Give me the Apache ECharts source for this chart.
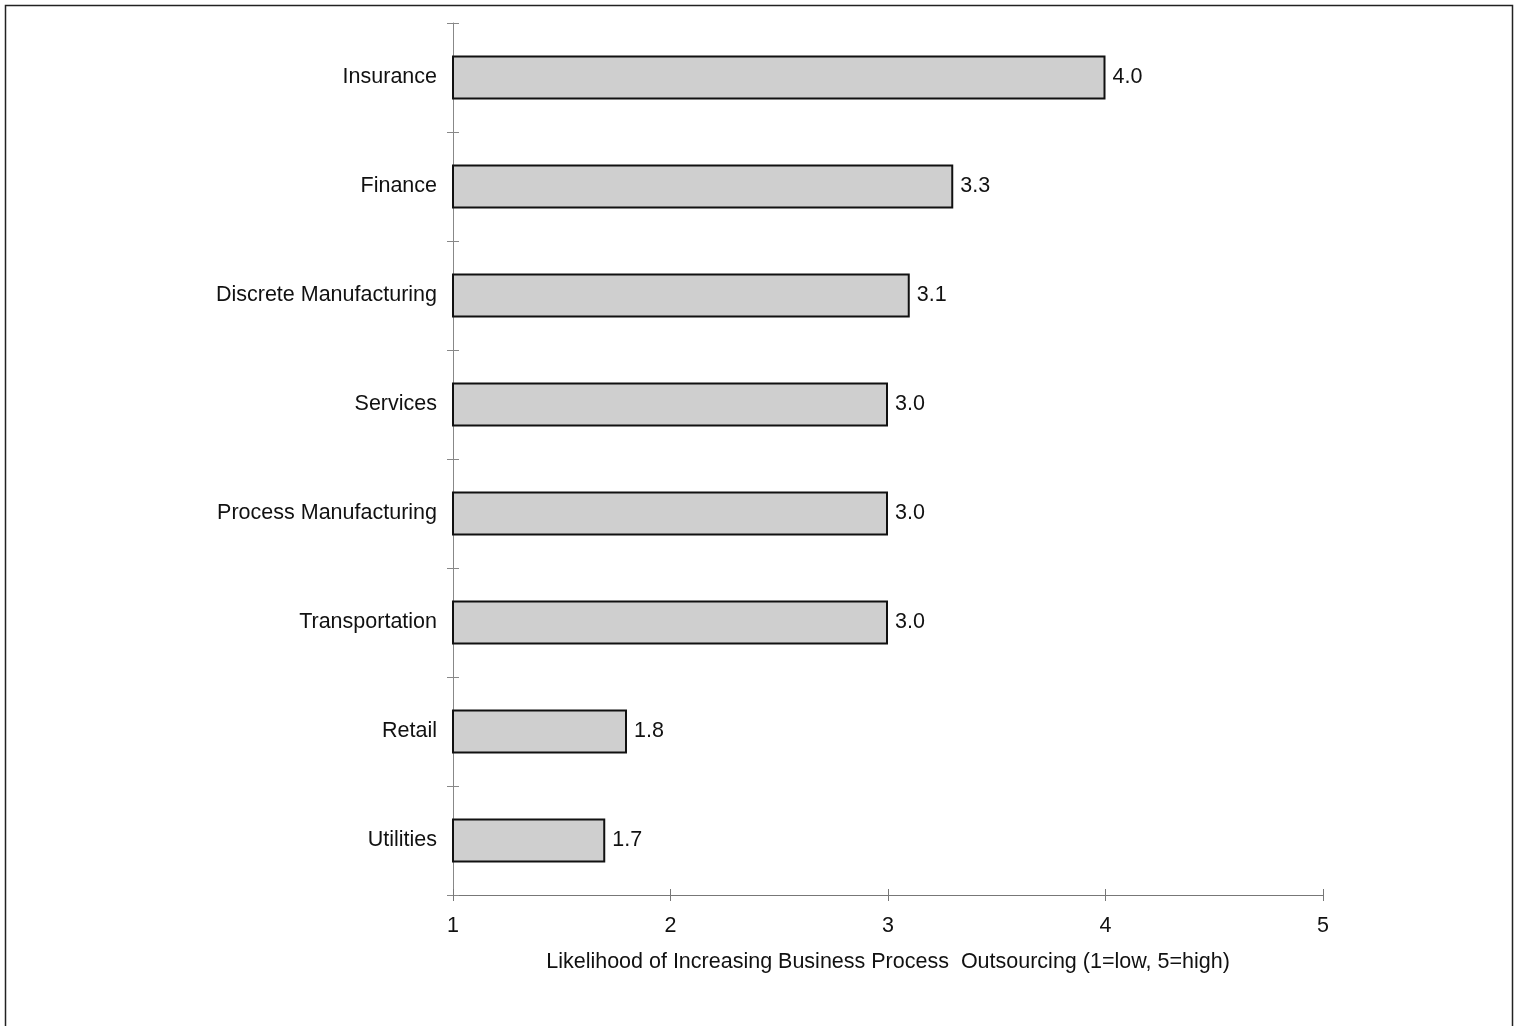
<!DOCTYPE html>
<html>
<head>
<meta charset="utf-8">
<title>Business Process Outsourcing Likelihood by Industry</title>
<script src="https://cdn.jsdelivr.net/npm/echarts@6/dist/echarts.min.js"></script>
<style>
  html, body { margin: 0; padding: 0; background: #fff; }
  #chart { width: 1515px; height: 1026px; }
</style>
</head>
<body>
<div id="chart"></div>
<script>
// Industries, listed bottom to top as the category axis draws them
const industries = ['Utilities', 'Retail', 'Transportation', 'Process Manufacturing',
  'Services', 'Discrete Manufacturing', 'Finance', 'Insurance'];
const likelihood = [1.7, 1.8, 3.0, 3.0, 3.0, 3.1, 3.3, 4.0];
const xTicks = [1, 2, 3, 4, 5];
const xAxisTitle = 'Likelihood of Increasing Business Process  Outsourcing (1=low, 5=high)';

const font = '"Liberation Sans", Arial, Helvetica, sans-serif';
const fs = 21.5;
const chart = echarts.init(document.getElementById('chart'), null, { renderer: 'canvas' });

chart.setOption({
  animation: false,
  backgroundColor: '#ffffff',
  graphic: [{
    type: 'rect',
    shape: { x: 5.5, y: 5.5, width: 1507, height: 1040 },
    style: { fill: 'none', stroke: '#222', lineWidth: 1.5 },
    silent: true
  }],
  grid: { left: 453, right: 192, top: 23, bottom: 131, containLabel: false },
  xAxis: [{
    type: 'value',
    min: xTicks[0],
    max: xTicks[xTicks.length - 1],
    interval: 1,
    name: xAxisTitle,
    nameLocation: 'middle',
    nameGap: 56,
    nameTextStyle: { fontFamily: font, fontSize: fs, color: '#111' },
    axisLine: { show: true, lineStyle: { color: '#777', width: 1 } },
    axisTick: { show: true, length: 6, lineStyle: { color: '#777' } },
    axisLabel: { fontFamily: font, fontSize: fs, color: '#111', margin: 20 },
    splitLine: { show: false }
  }, {
    // inward half of the crossing ticks
    type: 'value', position: 'bottom',
    min: xTicks[0], max: xTicks[xTicks.length - 1], interval: 1,
    axisLine: { show: false },
    axisTick: { show: true, inside: true, length: 6, lineStyle: { color: '#777' } },
    axisLabel: { show: false },
    splitLine: { show: false }
  }],
  yAxis: [{
    type: 'category',
    data: industries,
    axisLine: { show: true, lineStyle: { color: '#888', width: 1 } },
    axisTick: { show: true, length: 6, lineStyle: { color: '#888' } },
    axisLabel: { fontFamily: font, fontSize: fs, color: '#111', margin: 16 },
    splitLine: { show: false }
  }, {
    type: 'category', position: 'left',
    data: industries,
    axisLine: { show: false },
    axisTick: { show: true, inside: true, length: 6, lineStyle: { color: '#888' } },
    axisLabel: { show: false },
    splitLine: { show: false }
  }],
  series: [{
    type: 'bar',
    data: likelihood,
    barWidth: 44,
    itemStyle: { color: '#cfcfcf', borderColor: '#111', borderWidth: 2 },
    label: {
      show: true,
      position: 'right',
      distance: 7,
      fontFamily: font,
      fontSize: fs,
      color: '#111',
      formatter: p => p.value.toFixed(1)
    }
  }]
});
</script>
</body>
</html>
